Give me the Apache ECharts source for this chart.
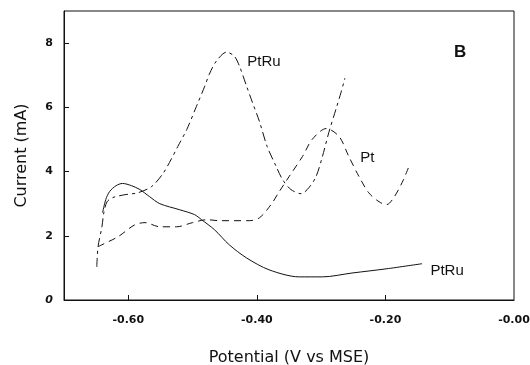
<!DOCTYPE html>
<html>
<head>
<meta charset="utf-8">
<script src="https://cdn.jsdelivr.net/npm/echarts@6/dist/echarts.min.js"></script>
<style>
  html, body { margin: 0; padding: 0; background: #fff; }
  #chart { width: 530px; height: 365px; }
</style>
</head>
<body>
<div id="chart"></div>
<script>
// potential (V vs MSE) / current (mA)
var ptRuSolidX = [-0.640, -0.635, -0.629, -0.619, -0.609, -0.595, -0.582, -0.567, -0.551, -0.520, -0.497, -0.486, -0.466, -0.443, -0.416, -0.381, -0.334, -0.298, -0.252, -0.199, -0.143];
var ptRuSolidY = [2.72, 3.13, 3.38, 3.56, 3.63, 3.56, 3.44, 3.22, 3.00, 2.81, 2.66, 2.50, 2.19, 1.72, 1.31, 0.94, 0.72, 0.72, 0.84, 0.97, 1.13];

var ptRuDashX = [-0.649, -0.647, -0.641, -0.638, -0.633, -0.624, -0.605, -0.585, -0.564, -0.547, -0.536, -0.523, -0.509, -0.494, -0.481, -0.474, -0.463, -0.447, -0.435, -0.427, -0.416, -0.407, -0.396, -0.384, -0.370, -0.360, -0.347, -0.331, -0.319, -0.308, -0.298, -0.288, -0.277, -0.269, -0.263];
var ptRuDashY = [1.03, 1.66, 2.28, 2.72, 3.06, 3.19, 3.28, 3.34, 3.53, 3.91, 4.28, 4.78, 5.31, 6.03, 6.66, 7.03, 7.44, 7.72, 7.59, 7.28, 6.66, 6.16, 5.56, 4.78, 4.16, 3.75, 3.44, 3.31, 3.50, 3.84, 4.47, 5.22, 5.94, 6.47, 6.91];

var ptX = [-0.647, -0.641, -0.616, -0.590, -0.574, -0.551, -0.525, -0.500, -0.478, -0.458, -0.412, -0.396, -0.378, -0.365, -0.350, -0.329, -0.314, -0.292, -0.272, -0.257, -0.241, -0.226, -0.210, -0.198, -0.187, -0.174, -0.164];
var ptY = [1.66, 1.72, 1.97, 2.34, 2.41, 2.28, 2.28, 2.41, 2.50, 2.47, 2.47, 2.56, 2.97, 3.38, 3.84, 4.47, 5.00, 5.34, 5.09, 4.47, 3.84, 3.34, 3.06, 2.97, 3.19, 3.66, 4.13];

var xTickValues = [-0.6, -0.4, -0.2, 0];
var xTickLabels = ['-0.60', '-0.40', '-0.20', '-0.00'];

// curve labels: [text, x, y]
var curveLabels = [
  ['PtRu', -0.415, 7.41],
  ['Pt', -0.239, 4.43],
  ['PtRu', -0.130, 0.92]
];

function pairs(xs, ys) {
  return xs.map(function (x, i) { return [x, ys[i]]; });
}

var font = '"Liberation Sans", Arial, sans-serif';
var nameFont = '"DejaVu Sans", sans-serif';

var myChart = echarts.init(document.getElementById('chart'));
var option = {
  animation: false,
  grid: {
    left: 64, right: 16, top: 11, bottom: 65,
    containLabel: false, outerBoundsMode: 'none',
    show: true, borderColor: '#111', borderWidth: 1
  },
  xAxis: {
    type: 'value',
    min: -0.7,
    max: 0,
    name: 'Potential (V vs MSE)',
    nameLocation: 'middle',
    nameGap: 50,
    nameTextStyle: { color: '#111', fontSize: 16, fontFamily: nameFont },
    axisLine: { show: true, onZero: false, lineStyle: { color: '#111' } },
    axisTick: { show: true, inside: true, length: 5, customValues: xTickValues.slice(0, 3), lineStyle: { color: '#111' } },
    axisLabel: {
      color: '#111', fontSize: 11, fontWeight: 'bold', fontFamily: nameFont, margin: 15,
      customValues: xTickValues,
      formatter: function (v) {
        var i = xTickValues.findIndex(function (t) { return Math.abs(t - v) < 1e-6; });
        return i >= 0 ? xTickLabels[i] : '';
      }
    },
    splitLine: { show: false }
  },
  yAxis: {
    type: 'value',
    min: 0,
    max: 9,
    interval: 2,
    name: 'Current (mA)',
    nameLocation: 'middle',
    nameGap: 34,
    nameRotate: 90,
    nameTextStyle: { color: '#111', fontSize: 16, fontFamily: nameFont },
    axisLine: { show: true, onZero: false, lineStyle: { color: '#111' } },
    axisTick: { show: true, inside: true, length: 5, lineStyle: { color: '#111' } },
    axisLabel: {
      color: '#111', fontSize: 11, fontWeight: 'bold', fontFamily: nameFont, margin: 11,
      showMaxLabel: false,
      formatter: function (v) { return v === 0 ? '{z|0}' : String(v); },
      rich: { z: { fontStyle: 'italic', fontSize: 11, fontWeight: 'bold', fontFamily: nameFont, color: '#111' } }
    },
    splitLine: { show: false }
  },
  series: [
    {
      type: 'line', name: 'PtRu', data: pairs(ptRuSolidX, ptRuSolidY),
      smooth: 0.3, showSymbol: false,
      lineStyle: { color: '#111', width: 1 }
    },
    {
      type: 'line', name: 'PtRu dash', data: pairs(ptRuDashX, ptRuDashY),
      smooth: 0.3, showSymbol: false,
      lineStyle: { color: '#111', width: 1, type: [9, 4, 3, 4] }
    },
    {
      type: 'line', name: 'Pt', data: pairs(ptX, ptY),
      smooth: 0.3, showSymbol: false,
      lineStyle: { color: '#111', width: 1, type: [7, 5] },
      markPoint: {
        symbol: 'circle', symbolSize: 0, silent: true,
        label: {
          show: true, position: 'right', distance: 0, color: '#111',
          fontSize: 15, fontFamily: font,
          formatter: function (p) { return p.name; }
        },
        data: curveLabels.map(function (c) { return { name: c[0], coord: [c[1], c[2]] }; })
      }
    }
  ],
  graphic: [
    {
      type: 'text', left: 454, top: 44,
      style: { text: 'B', fontSize: 17, fontWeight: 'bold', fontFamily: font, fill: '#111' }
    }
  ]
};
myChart.setOption(option);
</script>
</body>
</html>
